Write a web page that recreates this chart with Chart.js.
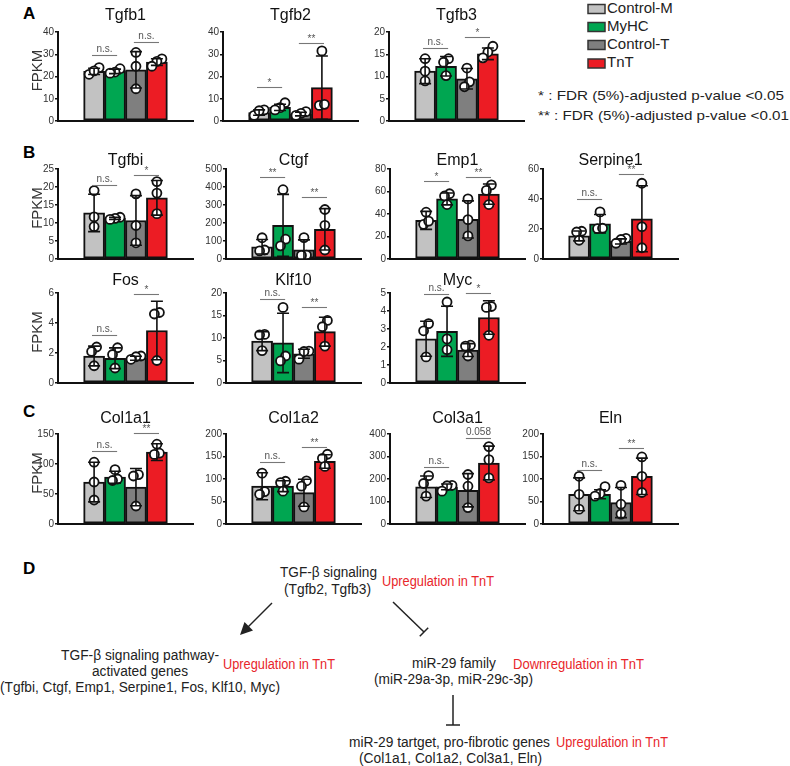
<!DOCTYPE html>
<html>
<head>
<meta charset="utf-8">
<script src="https://cdn.jsdelivr.net/npm/chart.js@4.4.0/dist/chart.umd.min.js"></script>
<style>
  body { margin: 0; background: #fff; }
  #page { position: relative; width: 790px; height: 766px; overflow: hidden; }
  #page canvas { position: absolute; }
  #page svg { position: absolute; left: 0; top: 0; }
</style>
</head>
<body>
<div id="page">
<svg width="790" height="766" font-family="'Liberation Sans', Arial, sans-serif">
  <g font-weight="bold" font-size="17" fill="#000">
    <text x="23" y="19">A</text>
    <text x="23" y="158">B</text>
    <text x="23" y="417">C</text>
    <text x="23" y="574">D</text>
  </g>
  <g stroke="#333" stroke-width="1.5">
    <rect x="588" y="4.5" width="17" height="9" fill="#c2c2c2"/>
    <rect x="588" y="22.5" width="17" height="9" fill="#00a651"/>
    <rect x="588" y="40.5" width="17" height="9" fill="#7f7f7f"/>
    <rect x="588" y="59" width="17" height="9" fill="#ec1c24"/>
  </g>
  <g font-size="15" fill="#222">
    <text x="607" y="13">Control-M</text>
    <text x="607" y="31">MyHC</text>
    <text x="607" y="49">Control-T</text>
    <text x="607" y="67">TnT</text>
  </g>
  <g font-size="13.5" fill="#222" lengthAdjust="spacingAndGlyphs">
    <text x="538" y="100" textLength="246" lengthAdjust="spacingAndGlyphs">* : FDR (5%)-adjusted p-value &lt;0.05</text>
    <text x="538" y="120" textLength="251" lengthAdjust="spacingAndGlyphs">** : FDR (5%)-adjusted p-value &lt;0.01</text>
  </g>

  <!-- panel D -->
  <g font-size="14" fill="#222">
    <text x="280" y="577" textLength="97" lengthAdjust="spacingAndGlyphs">TGF-β signaling</text>
    <text x="284" y="594" textLength="87" lengthAdjust="spacingAndGlyphs">(Tgfb2, Tgfb3)</text>
    <text x="61" y="660" textLength="158" lengthAdjust="spacingAndGlyphs">TGF-β signaling pathway-</text>
    <text x="92" y="676" textLength="96" lengthAdjust="spacingAndGlyphs">activated genes</text>
    <text x="0" y="692" textLength="280" lengthAdjust="spacingAndGlyphs">(Tgfbi, Ctgf, Emp1, Serpine1, Fos, Klf10, Myc)</text>
    <text x="412" y="668" textLength="84" lengthAdjust="spacingAndGlyphs">miR-29 family</text>
    <text x="374" y="684" textLength="159" lengthAdjust="spacingAndGlyphs">(miR-29a-3p, miR-29c-3p)</text>
    <text x="349" y="747" textLength="201" lengthAdjust="spacingAndGlyphs">miR-29 tartget, pro-fibrotic genes</text>
    <text x="359" y="763" textLength="183" lengthAdjust="spacingAndGlyphs">(Col1a1, Col1a2, Col3a1, Eln)</text>
  </g>
  <g font-size="14" fill="#e8262b">
    <text x="382" y="586" textLength="112" lengthAdjust="spacingAndGlyphs">Upregulation in TnT</text>
    <text x="223" y="669" textLength="112" lengthAdjust="spacingAndGlyphs">Upregulation in TnT</text>
    <text x="513" y="669" textLength="131" lengthAdjust="spacingAndGlyphs">Downregulation in TnT</text>
    <text x="556" y="747" textLength="112" lengthAdjust="spacingAndGlyphs">Upregulation in TnT</text>
  </g>
  <g stroke="#222" stroke-width="1.5" fill="none">
    <line x1="272" y1="603" x2="244" y2="631"/>
    <line x1="393" y1="602" x2="424" y2="632"/>
    <line x1="419.8" y1="636.3" x2="428.2" y2="627.7"/>
    <line x1="453" y1="695" x2="453" y2="725"/>
    <line x1="446" y1="725" x2="460" y2="725"/>
  </g>
  <polygon points="240,635 244.5,622 253,630.5" fill="#222"/>
</svg>
</div>

<script>
const GROUPS = ['Control-M', 'MyHC', 'Control-T', 'TnT'];
const COLORS = ['#c2c2c2', '#00a651', '#7f7f7f', '#ec1c24'];

// ---- A ----
const tgfb1Ticks = [0, 10, 20, 30, 40];
const tgfb1Mean = [22.3, 22.3, 23.0, 26.5];
const tgfb1Sd = [1.4, 1.0, 8.2, 1.5];
const tgfb1Pts = [[24, 21, 22.5], [23.5, 22, 21.5], [30.8, 24.6, 14.5], [27.9, 26.8, 24.6]];
const tgfb1Sig = [['n.s.', 29.5], ['n.s.', 35.3]];

const tgfb2Ticks = [0, 10, 20, 30, 40];
const tgfb2Mean = [3.8, 6.1, 3.1, 15.0];
const tgfb2Sd = [1.2, 1.4, 0.8, 14.2];
const tgfb2Pts = [[5.0, 2.5, 4.6], [8.2, 6.0, 5.0], [4.2, 3.4, 2.5], [31.5, 7.0, 7.5]];
const tgfb2Sig = [['*', 15.5], ['**', 35.1]];

const tgfb3Ticks = [0, 5, 10, 15, 20];
const tgfb3Mean = [11.2, 12.3, 9.5, 15.1];
const tgfb3Sd = [2.8, 2.2, 2.3, 1.3];
const tgfb3Pts = [[14.0, 11.2, 9.0], [14.0, 13.2, 10.2], [11.9, 8.8, 7.7], [16.8, 15.5, 14.2]];
const tgfb3Sig = [['n.s.', 16.4], ['*', 18.8]];

// ---- B ----
const tgfbiTicks = [0, 5, 10, 15, 20, 25];
const tgfbiMean = [12.8, 11.3, 10.7, 17.0];
const tgfbiSd = [5.2, 0.3, 6.9, 4.8];
const tgfbiPts = [[19.0, 11.7, 9.0], [11.6, 11.3, 11.0], [18.1, 9.3, 4.5], [21.5, 18.3, 12.6]];
const tgfbiSig = [['n.s.', 20.6], ['*', 23.4]];

const ctgfTicks = [0, 100, 200, 300, 400, 500];
const ctgfMean = [68, 187, 51, 165];
const ctgfSd = [40, 172, 55, 115];
const ctgfPts = [[118, 50, 45], [385, 110, 73], [119, 22, 20], [275, 187, 50]];
const ctgfSig = [['**', 454], ['**', 342]];

const emp1Ticks = [0, 20, 40, 60, 80];
const emp1Mean = [34.3, 53.4, 35.2, 57.7];
const emp1Sd = [8.0, 5.3, 16.5, 9.0];
const emp1Pts = [[41.6, 30.8, 33.7], [58, 56, 48.4], [53.4, 35, 20.5], [65.9, 61, 48.4]];
const emp1Sig = [['*', 68.9], ['**', 72.7]];

const serpine1Ticks = [0, 20, 40, 60];
const serpine1Mean = [15.4, 23.5, 11.7, 26.8];
const serpine1Sd = [3.3, 6.2, 1.7, 22.0];
const serpine1Pts = [[18.5, 18.0, 12.5], [31.4, 20.2, 20.5], [13.8, 13.0, 10.5], [50.5, 21.5, 7.5]];
const serpine1Sig = [['n.s.', 40], ['**', 56.5]];

const fosTicks = [0, 2, 4, 6];
const fosMean = [1.8, 1.65, 1.65, 3.5];
const fosSd = [0.66, 0.69, 0.13, 1.95];
const fosPts = [[2.4, 2.1, 1.15], [2.35, 1.9, 1.0], [1.8, 1.75, 1.58], [4.7, 4.6, 1.5]];
const fosSig = [['n.s.', 3.18], ['*', 5.9]];

const klf10Ticks = [0, 5, 10, 15, 20];
const klf10Mean = [9.3, 8.9, 6.5, 11.4];
const klf10Sd = [2.1, 6.6, 1.0, 3.2];
const klf10Pts = [[10.8, 10.7, 7.2], [16.8, 6.0, 4.9], [7.1, 7.0, 5.3], [13.9, 12.5, 8.2]];
const klf10Sig = [['n.s.', 18.7], ['**', 17.0]];

const mycTicks = [0, 1, 2, 3, 4, 5];
const mycMean = [2.46, 2.87, 1.83, 3.64];
const mycSd = [0.97, 1.39, 0.36, 0.93];
const mycPts = [[3.3, 2.9, 1.45], [4.5, 2.45, 1.85], [2.1, 2.05, 1.5], [4.25, 4.2, 2.65]];
const mycSig = [['n.s.', 4.93], ['*', 4.98]];

// ---- C ----
const col1a1Ticks = [0, 50, 100, 150];
const col1a1Mean = [69.8, 78, 61.5, 119.8];
const col1a1Sd = [33, 10, 31, 14];
const col1a1Pts = [[103, 70, 40], [90.6, 75, 72.5], [82.4, 80, 30], [133, 118, 116]];
const col1a1Sig = [['n.s.', 121], ['**', 151]];

const col1a2Ticks = [0, 50, 100, 150, 200];
const col1a2Mean = [84, 84, 69.6, 139];
const col1a2Sd = [30, 12, 30, 15];
const col1a2Pts = [[113, 72, 66], [95, 92, 73], [96, 84, 38], [155, 146, 128]];
const col1a2Sig = [['n.s.', 138], ['**', 171]];

const col3a1Ticks = [0, 100, 200, 300, 400];
const col3a1Mean = [165.6, 165, 150, 271];
const col3a1Sd = [48, 13, 74, 75];
const col3a1Pts = [[215, 180, 124], [172, 170, 146], [220, 168, 73], [344, 286, 205]];
const col3a1Sig = [['n.s.', 252], ['0.058', 381]];

const elnTicks = [0, 50, 100, 150, 200];
const elnMean = [66, 66, 47.6, 106];
const elnSd = [36.5, 10, 33.4, 40.5];
const elnPts = [[106, 66, 33], [83, 68, 62], [86, 44, 22], [149, 106, 70]];
const elnSig = [['n.s.', 121], ['**', 168.5]];

// layout: plot top, zero line, title baseline per row
const ROW_A = { top: 32, zero: 122, title: 20 };
const ROW_B1 = { top: 169, zero: 260, title: 165 };
const ROW_B2 = { top: 293, zero: 384, title: 285 };
const ROW_C = { top: 434, zero: 525, title: 423 };

const FONT = "'Liberation Sans', Arial, sans-serif";
const PADL = 50, PADT = 32, PADB = 6, PLOTW = 135, PADR = 8;
const XMIN = -0.65, XMAX = 3.65;

// spread overlapping circles sideways (pixels)
function spread(vals, ymax, plotH) {
  const order = vals.map((v, i) => i).sort((a, b) => vals[a] - vals[b]);
  const off = vals.map(() => 0);
  const clusters = [];
  let cur = [order[0]];
  for (let k = 1; k < order.length; k++) {
    const dy = (vals[order[k]] - vals[order[k - 1]]) / ymax * plotH;
    if (dy < 8) cur.push(order[k]);
    else { clusters.push(cur); cur = [order[k]]; }
  }
  clusters.push(cur);
  clusters.forEach(c => c.forEach((idx, j) => { off[idx] = (j - (c.length - 1) / 2) * 7.5; }));
  return off;
}

function makeChart(name, ticks, mean, sd, pts, sig, row, axisX, fpkm) {
  const plotH = row.zero - row.top;
  const ymax = ticks[ticks.length - 1];
  const unitPx = PLOTW / (XMAX - XMIN);

  const cv = document.createElement('canvas');
  cv.width = PADL + PLOTW + PADR;
  cv.height = PADT + plotH + PADB;
  cv.style.left = (axisX - PADL) + 'px';
  cv.style.top = (row.top - PADT) + 'px';
  document.getElementById('page').appendChild(cv);

  const scatter = [];
  pts.forEach((vals, g) => {
    const off = spread(vals, ymax, plotH);
    vals.forEach((v, k) => scatter.push({ x: g + off[k] / unitPx, y: v }));
  });

  const decor = {
    id: 'decor' + name,
    afterDatasetsDraw(chart) {
      const { ctx, chartArea: a, scales: { x, y } } = chart;
      ctx.save();
      // error bars (mean ± SD)
      ctx.strokeStyle = '#111';
      ctx.lineWidth = 1.6;
      mean.forEach((m, i) => {
        const px = x.getPixelForValue(i);
        const hi = y.getPixelForValue(m + sd[i]);
        const lo = y.getPixelForValue(Math.max(0, m - sd[i]));
        ctx.beginPath();
        ctx.moveTo(px, hi); ctx.lineTo(px, lo);
        ctx.moveTo(px - 6, hi); ctx.lineTo(px + 6, hi);
        ctx.moveTo(px - 6, lo); ctx.lineTo(px + 6, lo);
        ctx.stroke();
      });
      // significance brackets
      sig.forEach(([label, v], k) => {
        const g = k * 2;
        const x0 = x.getPixelForValue(g - 0.1), x1 = x.getPixelForValue(g + 1.1);
        const py = Math.round(y.getPixelForValue(v)) + 0.5;
        ctx.strokeStyle = '#777';
        ctx.lineWidth = 1.1;
        ctx.beginPath(); ctx.moveTo(x0, py); ctx.lineTo(x1, py); ctx.stroke();
        ctx.fillStyle = '#555';
        ctx.font = '10px ' + FONT;
        ctx.textAlign = 'center';
        ctx.textBaseline = 'alphabetic';
        ctx.fillText(label, (x0 + x1) / 2, py - (label.startsWith('*') ? 2 : 4));
      });
      // title
      ctx.fillStyle = '#111';
      ctx.font = '16px ' + FONT;
      ctx.textAlign = 'center';
      ctx.textBaseline = 'alphabetic';
      ctx.fillText(name, (a.left + a.right) / 2, a.top - (row.top - row.title));
      // y label
      if (fpkm) {
        ctx.translate(a.left - 20, (a.top + a.bottom) / 2 - 6);
        ctx.rotate(-Math.PI / 2);
        ctx.fillStyle = '#333';
        ctx.font = '15px ' + FONT;
        ctx.textBaseline = 'middle';
        ctx.fillText('FPKM', 0, 0);
      }
      ctx.restore();
    }
  };

  new Chart(cv, {
    type: 'bar',
    data: {
      datasets: [
        {
          type: 'scatter',
          data: scatter,
          pointRadius: 4.5,
          pointBorderWidth: 1.8,
          pointBackgroundColor: '#fff',
          pointBorderColor: '#111',
          order: 1
        },
        {
          type: 'bar',
          data: mean.map((m, i) => ({ x: i, y: m })),
          backgroundColor: COLORS,
          borderColor: '#111',
          borderWidth: 2,
          borderSkipped: false,
          barThickness: 21,
          order: 2
        }
      ]
    },
    options: {
      responsive: false,
      devicePixelRatio: 1,
      animation: false,
      events: [],
      layout: { padding: { top: PADT, bottom: PADB, left: 0, right: PADR } },
      plugins: { legend: { display: false }, tooltip: { enabled: false } },
      scales: {
        x: {
          type: 'linear', min: XMIN, max: XMAX,
          afterFit: s => { s.height = 0; },
          border: { display: true, color: '#111', width: 2 },
          grid: { drawOnChartArea: false, drawTicks: false },
          ticks: { display: false }
        },
        y: {
          min: 0, max: ymax,
          afterBuildTicks: s => { s.ticks = ticks.map(v => ({ value: v })); },
          afterFit: s => { s.width = PADL; },
          border: { display: true, color: '#111', width: 2 },
          grid: { drawOnChartArea: false, drawTicks: true, tickLength: 3, color: '#111', lineWidth: 1.5 },
          ticks: { font: { size: 10, family: FONT }, color: '#333', padding: 1 }
        }
      }
    },
    plugins: [decor]
  });
}

makeChart('Tgfb1', tgfb1Ticks, tgfb1Mean, tgfb1Sd, tgfb1Pts, tgfb1Sig, ROW_A, 58, true);
makeChart('Tgfb2', tgfb2Ticks, tgfb2Mean, tgfb2Sd, tgfb2Pts, tgfb2Sig, ROW_A, 223, false);
makeChart('Tgfb3', tgfb3Ticks, tgfb3Mean, tgfb3Sd, tgfb3Pts, tgfb3Sig, ROW_A, 389, false);

makeChart('Tgfbi', tgfbiTicks, tgfbiMean, tgfbiSd, tgfbiPts, tgfbiSig, ROW_B1, 58, true);
makeChart('Ctgf', ctgfTicks, ctgfMean, ctgfSd, ctgfPts, ctgfSig, ROW_B1, 226, false);
makeChart('Emp1', emp1Ticks, emp1Mean, emp1Sd, emp1Pts, emp1Sig, ROW_B1, 390, false);
makeChart('Serpine1', serpine1Ticks, serpine1Mean, serpine1Sd, serpine1Pts, serpine1Sig, ROW_B1, 543, false);

makeChart('Fos', fosTicks, fosMean, fosSd, fosPts, fosSig, ROW_B2, 58, true);
makeChart('Klf10', klf10Ticks, klf10Mean, klf10Sd, klf10Pts, klf10Sig, ROW_B2, 226, false);
makeChart('Myc', mycTicks, mycMean, mycSd, mycPts, mycSig, ROW_B2, 390, false);

makeChart('Col1a1', col1a1Ticks, col1a1Mean, col1a1Sd, col1a1Pts, col1a1Sig, ROW_C, 58, true);
makeChart('Col1a2', col1a2Ticks, col1a2Mean, col1a2Sd, col1a2Pts, col1a2Sig, ROW_C, 226, false);
makeChart('Col3a1', col3a1Ticks, col3a1Mean, col3a1Sd, col3a1Pts, col3a1Sig, ROW_C, 390, false);
makeChart('Eln', elnTicks, elnMean, elnSd, elnPts, elnSig, ROW_C, 543, false);
</script>
</body>
</html>
